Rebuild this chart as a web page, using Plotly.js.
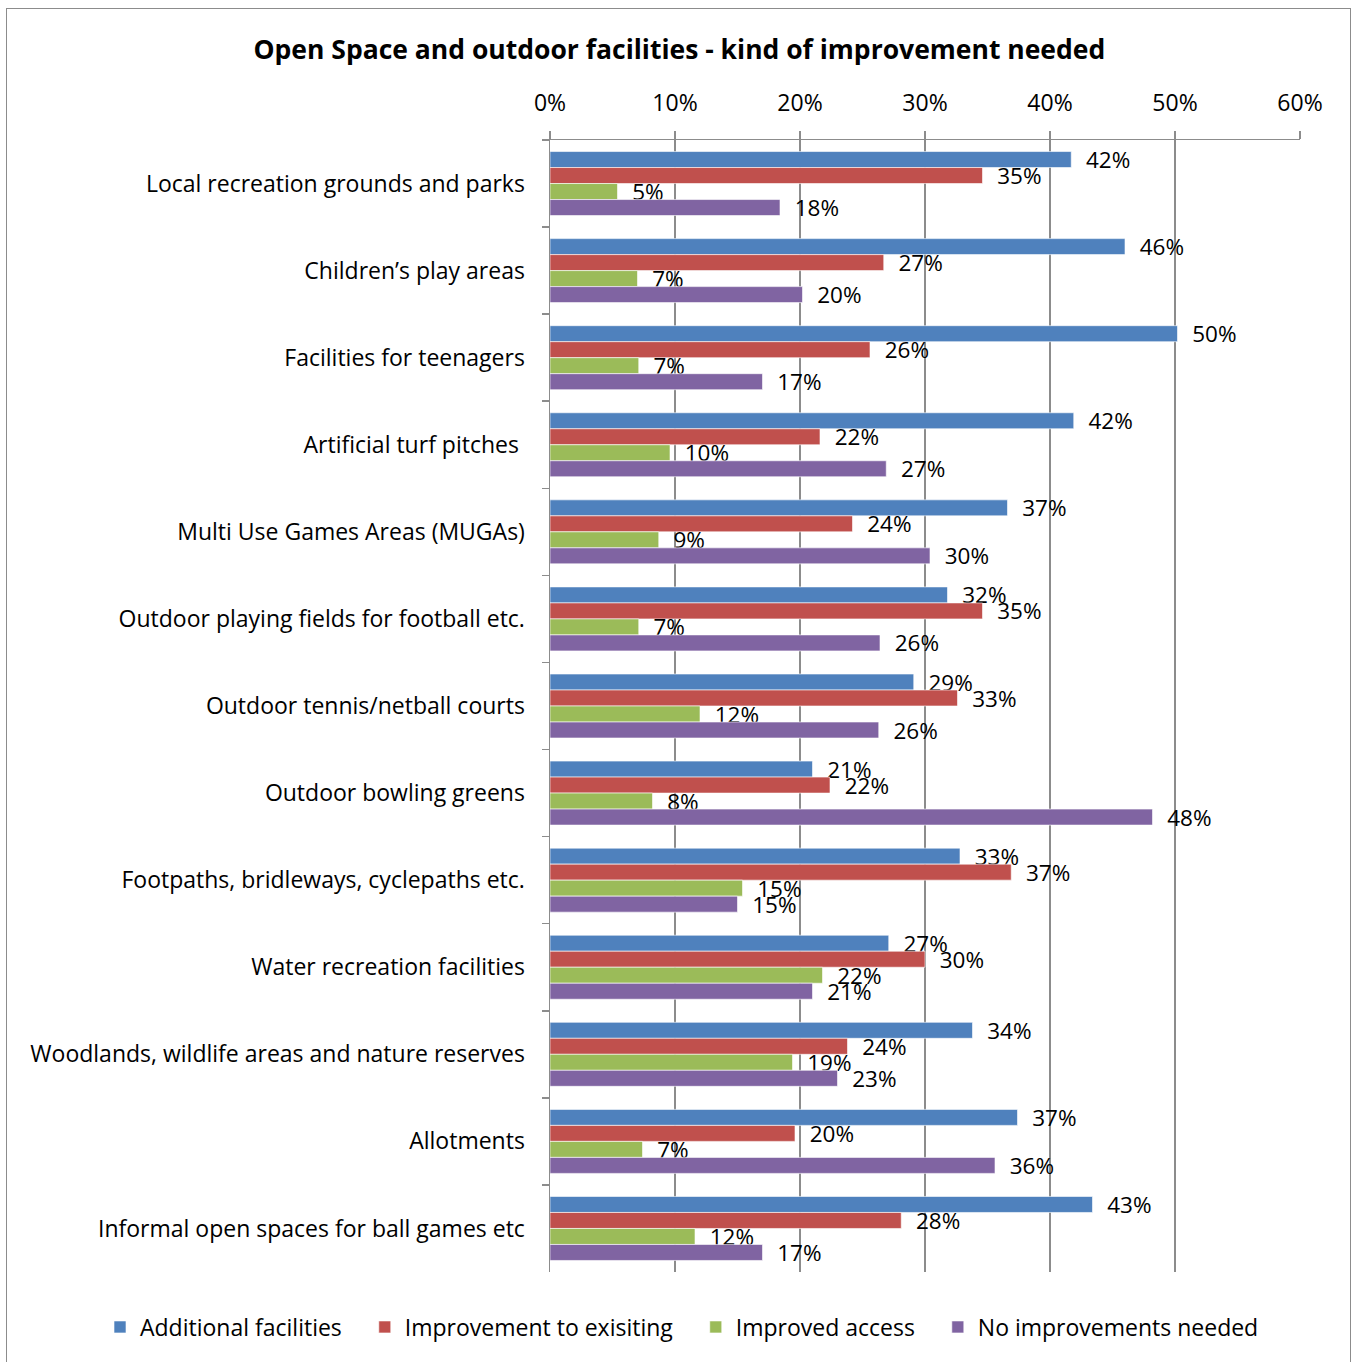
<!DOCTYPE html>
<html>
<head>
<meta charset="utf-8">
<script src="https://cdn.plot.ly/plotly-3.0.1.min.js"></script>
<style>
  html, body { margin: 0; padding: 0; background: #fff; overflow: hidden; }
  #chart { width: 1356px; height: 1362px; }
  #frame { position: absolute; left: 6px; top: 8px; width: 1345px; height: 1400px;
           border: 1.5px solid #8c8c8c; pointer-events: none; box-sizing: border-box; }
</style>
</head>
<body>
<div id="chart"></div>
<div id="frame"></div>
<script>
const categories = [
  "Local recreation grounds and parks",
  "Children\u2019s play areas",
  "Facilities for teenagers",
  "Artificial turf pitches\u00a0",
  "Multi Use Games Areas (MUGAs)",
  "Outdoor playing fields for football etc.",
  "Outdoor tennis/netball courts",
  "Outdoor bowling greens",
  "Footpaths, bridleways, cyclepaths etc.",
  "Water recreation facilities",
  "Woodlands, wildlife areas and nature reserves",
  "Allotments",
  "Informal open spaces for ball games etc"
];
const seriesNames = ["Additional facilities", "Improvement to exisiting", "Improved access", "No improvements needed"];
const additionalFacilities = [41.7, 46.0, 50.2, 41.9, 36.6, 31.8, 29.1, 21.0, 32.8, 27.1, 33.8, 37.4, 43.4];
const improvementToExisting = [34.6, 26.7, 25.6, 21.6, 24.2, 34.6, 32.6, 22.4, 36.9, 30.0, 23.8, 19.6, 28.1];
const improvedAccess = [5.4, 7.0, 7.1, 9.6, 8.7, 7.1, 12.0, 8.2, 15.4, 21.8, 19.4, 7.4, 11.6];
const noImprovements = [18.4, 20.2, 17.0, 26.9, 30.4, 26.4, 26.3, 48.2, 15.0, 21.0, 23.0, 35.6, 17.0];
const xTickValues = [0, 10, 20, 30, 40, 50, 60];
const xTickLabels = ["0%", "10%", "20%", "30%", "40%", "50%", "60%"];

const colors = ["#4F81BD", "#C0504D", "#9BBB59", "#8064A2"];
const FONT = "'Open Sans', sans-serif";
const FS = 23;
const allSeries = [additionalFacilities, improvementToExisting, improvedAccess, noImprovements];

const traces = allSeries.map((vals, i) => ({
  type: "bar",
  orientation: "h",
  name: seriesNames[i] + "\u00a0\u00a0\u00a0",
  y: categories,
  x: vals,
  marker: { color: colors[i], line: { color: "rgba(255,255,255,0.6)", width: 1 } },
  texttemplate: "\u00a0\u00a0%{x:.0f}%",
  textposition: "outside",
  constraintext: "none",
  cliponaxis: false,
  textfont: { family: FONT, size: 22.5, color: "#000" },
  hoverinfo: "none"
}));

const layout = {
  width: 1356,
  height: 1362,
  margin: { l: 550, r: 56, t: 140, b: 90 },
  paper_bgcolor: "#fff",
  plot_bgcolor: "#fff",
  font: { family: FONT, size: FS, color: "#000" },
  title: {
    text: "<b>Open Space and outdoor facilities - kind of improvement needed</b>",
    font: { family: FONT, size: 26.5, color: "#000" },
    xref: "container", x: 0.501,
    yref: "container", y: 1 - 50 / 1362, yanchor: "middle"
  },
  barmode: "group",
  bargap: 0.265,
  bargroupgap: 0,
  showlegend: true,
  legend: {
    orientation: "h",
    x: -0.6, xanchor: "left",
    y: -0.0486, yanchor: "middle",
    font: { family: FONT, size: FS, color: "#000" },
    traceorder: "normal",
    itemwidth: 30
  },
  xaxis: {
    side: "top",
    range: [0, 60],
    tickvals: xTickValues,
    ticktext: xTickLabels,
    showgrid: true,
    gridcolor: "#8c8c8c",
    gridwidth: 1.5,
    showline: true,
    linecolor: "#8c8c8c",
    linewidth: 1.5,
    ticks: "outside",
    ticklen: 8,
    tickcolor: "#8c8c8c",
    tickwidth: 1.5,
    ticklabelstandoff: 10,
    zeroline: false,
    tickfont: { family: FONT, size: FS, color: "#000" },
    fixedrange: true
  },
  yaxis: {
    type: "category",
    autorange: "reversed",
    showgrid: false,
    showline: true,
    linecolor: "#8c8c8c",
    linewidth: 1.5,
    ticks: "outside",
    tickson: "boundaries",
    ticklen: 7,
    tickcolor: "#8c8c8c",
    tickwidth: 1.5,
    ticklabelstandoff: 19,
    tickfont: { family: FONT, size: FS, color: "#000" },
    fixedrange: true
  }
};

Plotly.newPlot("chart", traces, layout, { displayModeBar: false, staticPlot: true });
</script>
</body>
</html>
